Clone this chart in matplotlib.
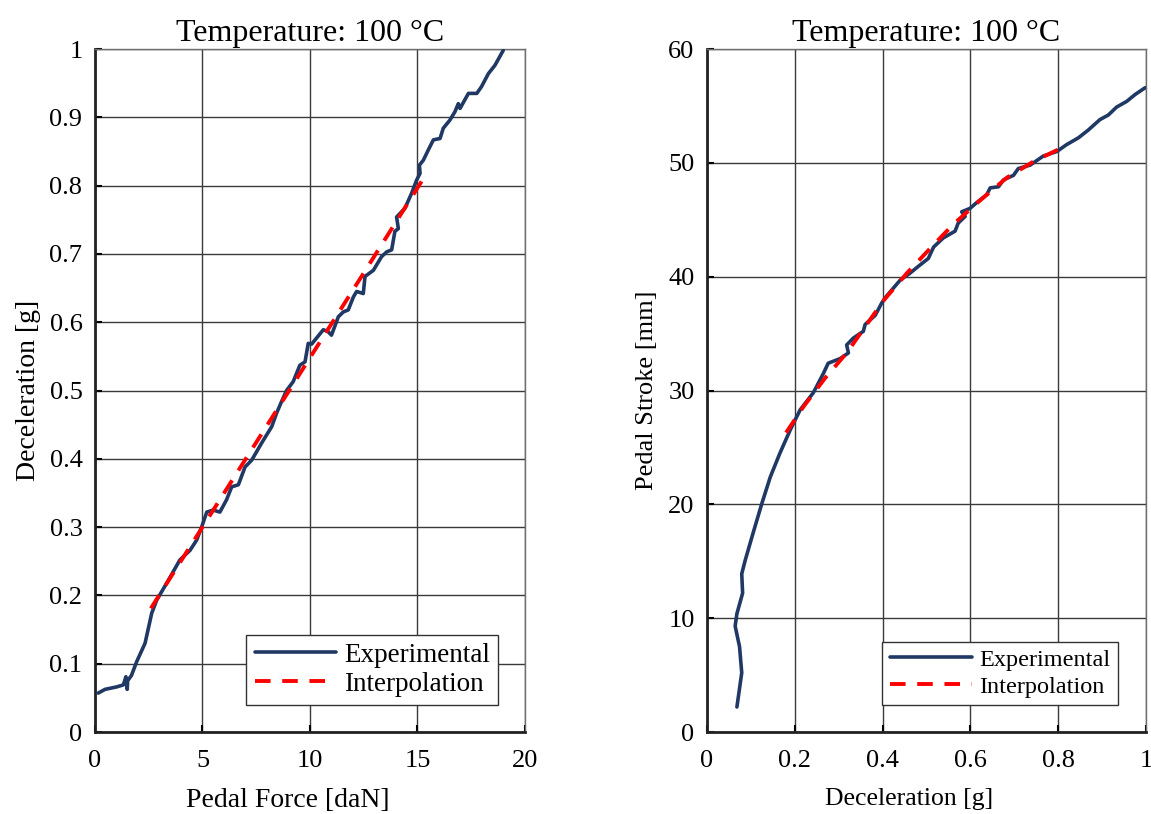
import numpy as np
import matplotlib
matplotlib.use('Agg')
import matplotlib.pyplot as plt
from matplotlib.ticker import FormatStrFormatter

plt.rcParams['font.family'] = ['Liberation Serif', 'DejaVu Serif']

# Left panel: deceleration vs pedal force (experimental trace)
force_exp = [0.15, 0.47, 1.0, 1.32, 1.44, 1.5, 1.52, 1.7, 1.94, 2.33, 2.64, 2.87, 3.41, 3.95,
             4.42, 4.73, 4.96, 5.2, 5.5, 5.81, 6.12, 6.36, 6.67, 6.98, 7.29, 7.75, 8.22,
             8.45, 8.68, 8.91, 9.22, 9.53, 9.77, 9.92, 10.08, 10.62, 10.85, 11.0, 11.32,
             11.55, 11.78, 12.02, 12.17, 12.48, 12.56, 12.95, 13.33, 13.57, 13.8, 13.95,
             14.11, 14.03, 14.42, 14.73, 14.96, 15.12, 15.09, 15.27, 15.5, 15.74, 16.05,
             16.2, 16.51, 16.74, 16.9, 16.98, 17.37, 17.76, 17.98, 18.3, 18.6, 18.99]
decel_exp = [0.057, 0.0625, 0.066, 0.069, 0.081, 0.0625, 0.075, 0.083, 0.103, 0.13, 0.174,
             0.193, 0.222, 0.252, 0.266, 0.281, 0.30, 0.322, 0.325, 0.322, 0.34, 0.359,
             0.362, 0.388, 0.398, 0.423, 0.447, 0.467, 0.484, 0.50, 0.513, 0.537, 0.542,
             0.569, 0.568, 0.589, 0.586, 0.581, 0.608, 0.615, 0.618, 0.637, 0.645, 0.642,
             0.667, 0.676, 0.696, 0.703, 0.706, 0.733, 0.737, 0.754, 0.767, 0.789, 0.808,
             0.818, 0.83, 0.837, 0.852, 0.867, 0.869, 0.884, 0.896, 0.908, 0.92, 0.913,
             0.935, 0.935, 0.945, 0.964, 0.976, 0.998]

# Left panel: interpolation line
force_fit = [2.6, 5.0, 7.5, 10.0, 12.5, 15.27]
decel_fit = [0.181, 0.300, 0.424, 0.548, 0.672, 0.81]

# Right panel: pedal stroke vs deceleration (experimental trace)
decel_r = [0.068, 0.079, 0.074, 0.064, 0.068, 0.081, 0.079, 0.087, 0.105, 0.125, 0.144,
           0.166, 0.189, 0.212, 0.242, 0.265, 0.276, 0.303, 0.322, 0.318, 0.333, 0.356,
           0.36, 0.383, 0.398, 0.409, 0.44, 0.462, 0.481, 0.504, 0.516, 0.538, 0.565,
           0.572, 0.588, 0.58, 0.599, 0.614, 0.637, 0.645, 0.664, 0.675, 0.698, 0.709,
           0.736, 0.766, 0.797, 0.819, 0.846, 0.869, 0.895, 0.914, 0.933, 0.956, 0.975,
           0.998]
stroke_r = [2.2, 5.2, 7.5, 9.3, 10.4, 12.2, 13.9, 15.1, 17.5, 20.1, 22.4, 24.5, 26.5, 28.3,
            29.8, 31.5, 32.4, 32.8, 33.3, 34.0, 34.6, 35.2, 35.8, 36.6, 37.7, 38.3, 39.7,
            40.3, 40.9, 41.6, 42.6, 43.4, 44.0, 44.7, 45.3, 45.7, 46.0, 46.5, 47.2, 47.8,
            47.9, 48.5, 48.9, 49.5, 49.8, 50.6, 51.0, 51.6, 52.2, 52.9, 53.8, 54.2, 54.9,
            55.4, 56.0, 56.6]

# Right panel: interpolation curve
decel_rfit = [0.18, 0.22, 0.269, 0.318, 0.36, 0.402, 0.455, 0.516, 0.561, 0.622, 0.683,
              0.743, 0.812]
stroke_rfit = [26.3, 28.6, 31.1, 33.3, 35.6, 37.9, 40.3, 42.8, 44.6, 46.7, 48.7, 50.1, 51.4]

exp_color = '#203864'
fit_color = '#ff0000'

fig = plt.figure(figsize=(11.51, 8.14), dpi=100)
ax1 = fig.add_axes([0.0825, 0.1007, 0.3736, 0.8391])
ax2 = fig.add_axes([0.6143, 0.1007, 0.3814, 0.8391])


def style_axis(ax, tick_size):
    ax.grid(True, color='#3a3a3a', linewidth=1.0)
    ax.set_axisbelow(True)
    for side in ['top', 'right']:
        ax.spines[side].set_color('#6e6e6e')
        ax.spines[side].set_linewidth(1.0)
    for side in ['left', 'bottom']:
        ax.spines[side].set_color('#222222')
        ax.spines[side].set_linewidth(2.0)
    ax.tick_params(direction='in', length=5, width=1.5, labelsize=tick_size,
                   top=False, right=False)
    ax.tick_params(axis='x', pad=13)
    ax.tick_params(axis='y', pad=9)
    ax.set_title('Temperature: 100 °C', fontsize=23, pad=6)


line_kw = dict(solid_capstyle='round', solid_joinstyle='round', zorder=3)

# Left plot
ax1.plot(force_exp, decel_exp, color=exp_color, linewidth=2.6, label='Experimental', **line_kw)
ax1.plot(force_fit, decel_fit, color=fit_color, linewidth=2.8, linestyle=(0, (4, 3)),
         label='Interpolation', zorder=4)
ax1.set_xlim(0, 20)
ax1.set_ylim(0, 1)
ax1.set_xticks([0, 5, 10, 15, 20])
ax1.set_yticks(np.arange(0, 1.01, 0.1))
ax1.yaxis.set_major_formatter(FormatStrFormatter('%g'))
style_axis(ax1, 19)
ax1.set_xlabel('Pedal Force [daN]', fontsize=20)
ax1.xaxis.set_label_coords(0.449, -0.082, transform=ax1.transAxes)
ax1.xaxis.label.set_va('top')
ax1.set_ylabel('Deceleration [g]', fontsize=20, labelpad=6)
leg1 = ax1.legend(loc='lower right', bbox_to_anchor=(0.937, 0.0395), borderaxespad=0,
                  fontsize=19.5, fancybox=False, framealpha=1, edgecolor='#333333',
                  handlelength=3.0, borderpad=0.3, labelspacing=0.15, handletextpad=0.3)
leg1.get_frame().set_linewidth(1.0)

# Right plot
ax2.plot(decel_r, stroke_r, color=exp_color, linewidth=2.6, label='Experimental', **line_kw)
ax2.plot(decel_rfit, stroke_rfit, color=fit_color, linewidth=2.8, linestyle=(0, (4, 3)),
         label='Interpolation', zorder=4)
ax2.set_xlim(0, 1)
ax2.set_ylim(0, 60)
ax2.set_xticks(np.arange(0, 1.01, 0.2))
ax2.set_yticks(np.arange(0, 61, 10))
ax2.xaxis.set_major_formatter(FormatStrFormatter('%g'))
style_axis(ax2, 19)
ax2.set_xlabel('Deceleration [g]', fontsize=18.5)
ax2.xaxis.set_label_coords(0.46, -0.082, transform=ax2.transAxes)
ax2.xaxis.label.set_va('top')
ax2.set_ylabel('Pedal Stroke [mm]', fontsize=19, labelpad=7)
leg2 = ax2.legend(loc='lower right', bbox_to_anchor=(0.936, 0.0395), borderaxespad=0,
                  fontsize=17.5, fancybox=False, framealpha=1, edgecolor='#333333',
                  handlelength=3.4, borderpad=0.3, labelspacing=0.2, handletextpad=0.3)
leg2.get_frame().set_linewidth(1.0)

fig.savefig('out.png', dpi=100)
